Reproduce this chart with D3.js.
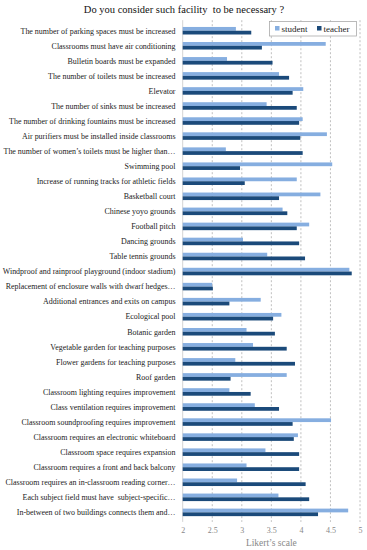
<!DOCTYPE html>
<html><head><meta charset="utf-8">
<script src="https://cdn.jsdelivr.net/npm/d3@7"></script>
<style>body{margin:0;background:#fff}svg{display:block}</style>
</head><body>
<script>
const categories = [
"The number of parking spaces must be increased",
"Classrooms must have air conditioning",
"Bulletin boards must be expanded",
"The number of toilets must be increased",
"Elevator",
"The number of sinks must be increased",
"The number of drinking fountains must be increased",
"Air purifiers must be installed inside classrooms",
"The number of women\u2019s toilets must be higher than\u2026",
"Swimming pool",
"Increase of running tracks for athletic fields",
"Basketball court",
"Chinese yoyo grounds",
"Football pitch",
"Dancing grounds",
"Table tennis grounds",
"Windproof and rainproof playground (indoor stadium)",
"Replacement of enclosure walls with dwarf hedges\u2026",
"Additional entrances and exits on campus",
"Ecological pool",
"Botanic garden",
"Vegetable garden for teaching purposes",
"Flower gardens for teaching purposes",
"Roof garden",
"Classroom lighting requires improvement",
"Class ventilation requires improvement",
"Classroom soundproofing requires improvement",
"Classroom requires an electronic whiteboard",
"Classroom space requires expansion",
"Classroom requires a front and back balcony",
"Classroom requires an in-classroom reading corner\u2026",
"Each subject field must have  subject-specific\u2026",
"In-between of two buildings connects them and\u2026"
];
const student = [2.90,4.42,2.75,3.63,4.04,3.42,4.03,4.44,2.73,4.53,3.93,4.33,3.69,4.14,3.02,3.43,4.82,2.50,3.32,3.67,3.08,3.19,2.89,3.76,2.79,3.22,4.51,3.95,3.40,3.08,2.92,3.62,4.80];
const teacher = [3.16,3.34,3.52,3.80,3.86,3.93,3.97,3.99,4.03,2.97,3.05,3.63,3.77,3.93,3.97,4.07,4.86,2.51,2.79,3.53,3.56,3.76,3.90,2.81,3.15,3.63,3.86,3.88,3.97,3.97,4.08,4.14,4.29];
const series = ["student","teacher"];
const colors = ["#86aee0","#1b4a7a"];
const ticks = [2,2.5,3,3.5,4,4.5,5];

(function(){
const W=367,H=550;
const pL=182.7,pR=360,pT=23.2,pB=519.9;
const font="'Liberation Serif','Times New Roman',serif";
const svg=d3.select("body").append("svg").attr("width",W).attr("height",H);

const x=d3.scaleLinear().domain([2,5]).range([pL,pR]);
const y=d3.scaleBand().domain(categories).range([pT,pB]).paddingInner(0.5).paddingOuter(0.25);
const ys=d3.scaleBand().domain(series).range([0,y.bandwidth()]);

svg.append("g").selectAll("line").data(ticks.slice(1)).join("line")
  .attr("x1",d=>x(d)).attr("x2",d=>x(d)).attr("y1",pT-3).attr("y2",pB+2)
  .attr("stroke","#b0b0b0").attr("stroke-width",0.8).attr("stroke-dasharray","2,2");
svg.append("line").attr("x1",x(2)).attr("x2",x(2)).attr("y1",pT-3).attr("y2",pB+2)
  .attr("stroke","#c8c8c8").attr("stroke-width",0.8);

const g=svg.append("g");
categories.forEach((c,i)=>{
  [student[i],teacher[i]].forEach((v,j)=>{
    g.append("rect").attr("x",x(2)).attr("y",y(c)+ys(series[j]))
     .attr("width",x(v)-x(2)).attr("height",ys.bandwidth())
     .attr("fill",colors[j]);
  });
});

svg.append("g").selectAll("text").data(categories).join("text")
  .attr("x",175.5).attr("y",d=>y(d)+y.bandwidth()/2)
  .attr("dy","0.35em").attr("text-anchor","end")
  .attr("font-family",font).attr("font-size",7.95).attr("fill","#222")
  .style("white-space","pre").text(d=>d);

const ax=d3.axisBottom(x).tickValues(ticks).tickSize(0).tickFormat(d3.format("~g"));
const axg=svg.append("g").attr("transform",`translate(0,${pB+4})`).call(ax);
axg.select(".domain").remove();
axg.selectAll("text").attr("font-family",font).attr("font-size",8).attr("fill","#888");

svg.append("text").attr("x",(pL+pR)/2).attr("y",546).attr("text-anchor","middle")
  .attr("font-family",font).attr("font-size",9.5).attr("fill","#888").text("Likert\u2019s scale");

svg.append("text").attr("x",184).attr("y",13).attr("text-anchor","middle")
  .attr("font-family",font).attr("font-size",10.5).attr("fill","#111")
  .style("white-space","pre").text("Do you consider such facility  to be necessary ?");

const lg=svg.append("g");
lg.append("rect").attr("x",269.5).attr("y",21.5).attr("width",87).attr("height",14.5)
  .attr("fill","#fff").attr("stroke","#aaa").attr("stroke-width",0.8);
const lx=[275,317];
series.forEach((s,j)=>{
  lg.append("rect").attr("x",lx[j]).attr("y",26).attr("width",4.5).attr("height",4.5).attr("fill",colors[j]);
  lg.append("text").attr("x",lx[j]+6.5).attr("y",31.5).attr("font-family",font)
    .attr("font-size",9).attr("fill","#222").text(s);
});
})();
</script>
</body></html>
